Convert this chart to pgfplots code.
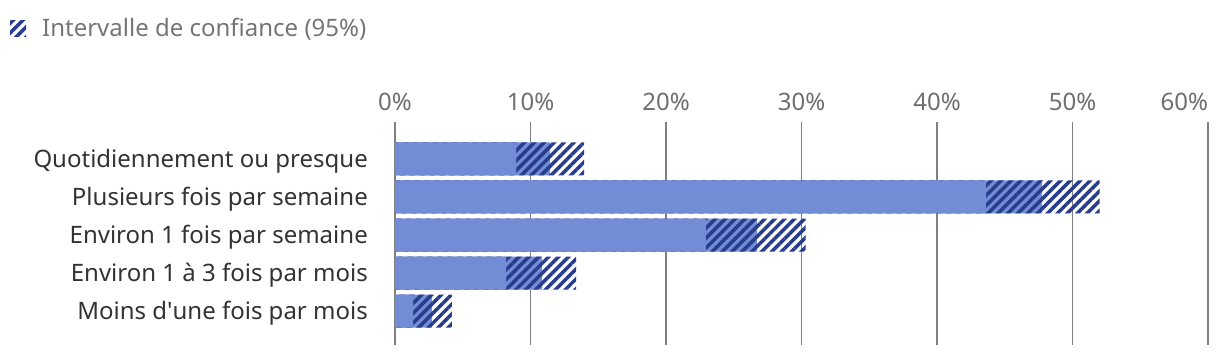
\documentclass[border=0pt]{standalone}
\usepackage{fontspec}
\setmainfont{Noto Sans}
\usepackage{pgfplots}
\pgfplotsset{compat=1.18}
\usepackage{pgfplotstable}
\usetikzlibrary{patterns.meta}
\definecolor{barblue}{RGB}{114,140,214}
\definecolor{hatchblue}{RGB}{40,60,140}
\definecolor{gridgray}{RGB}{128,128,128}
\definecolor{labeldark}{RGB}{51,51,51}
\definecolor{tickgray}{RGB}{110,110,110}
\definecolor{leggray}{RGB}{117,117,117}
\pgfplotstableread{
cat value lower upper
0 11.44 8.93 13.95
1 47.75 43.6 52.0
2 26.7 22.95 30.3
3 10.85 8.2 13.36
4 2.73 1.33 4.2
}\data
\begin{document}
\begin{tikzpicture}[x=1pt,y=1pt]
\useasboundingbox (0,0) rectangle (1220,-360);
\begin{axis}[
  at={(395pt,-122pt)}, anchor=north west,
  scale only axis, width=813pt, height=223pt,
  xmin=0, xmax=60, ymin=-0.97, ymax=4.89, y dir=reverse,
  clip=false,
  axis line style={draw=none}, tick style={draw=none},
  major tick length=0pt,
  xtick={0,10,20,30,40,50,60}, xticklabel pos=top,
  xticklabels={0\%,10\%,20\%,30\%,40\%,50\%,\makebox[0pt][r]{60\%}},
  xticklabel style={anchor=base, yshift=12pt, inner sep=0pt, text=tickgray},
  ytick={0,...,4},
  yticklabels={Quotidiennement ou presque, Plusieurs fois par semaine, Environ 1 fois par semaine, Environ 1 à 3 fois par mois, Moins d\textquotesingle une fois par mois},
  yticklabel style={anchor=east, inner sep=0pt, xshift=-27pt, yshift=-2pt, text=labeldark},
  font=\fontsize{24}{28}\selectfont,
  xmajorgrids, grid style={draw=gridgray, line width=1.9pt},
  legend style={at={(-0.4736,1.4215)}, anchor=west, draw=none, fill=none, inner sep=0pt, text=leggray, font=\fontsize{24}{28}\selectfont, cells={anchor=west}, /tikz/every odd column/.append style={column sep=14pt}},
  legend image code/.code={\fill[pattern={Lines[angle=45,distance=7pt,line width=3.5pt]}, pattern color=hatchblue] (0pt,-8pt) rectangle (16pt,8pt);},
]
\addplot[draw=gridgray, line width=1.9pt, forget plot] coordinates {(60,-0.97) (60,4.89)};
\addplot[xbar, bar shift=0pt, bar width=33pt, fill=barblue, draw=none, forget plot] table[x=value, y=cat] {\data};
\addplot[xbar, bar shift=0pt, bar width=33pt, draw=none, pattern={Lines[angle=45,distance=7pt,line width=3.5pt]}, pattern color=hatchblue] table[x=upper, y=cat] {\data};
\addlegendentry{Intervalle de confiance (95\%)}
\addplot[xbar, bar shift=0pt, bar width=33pt, fill=barblue, draw=none, forget plot] table[x=lower, y=cat] {\data};
\end{axis}
\end{tikzpicture}
\end{document}
